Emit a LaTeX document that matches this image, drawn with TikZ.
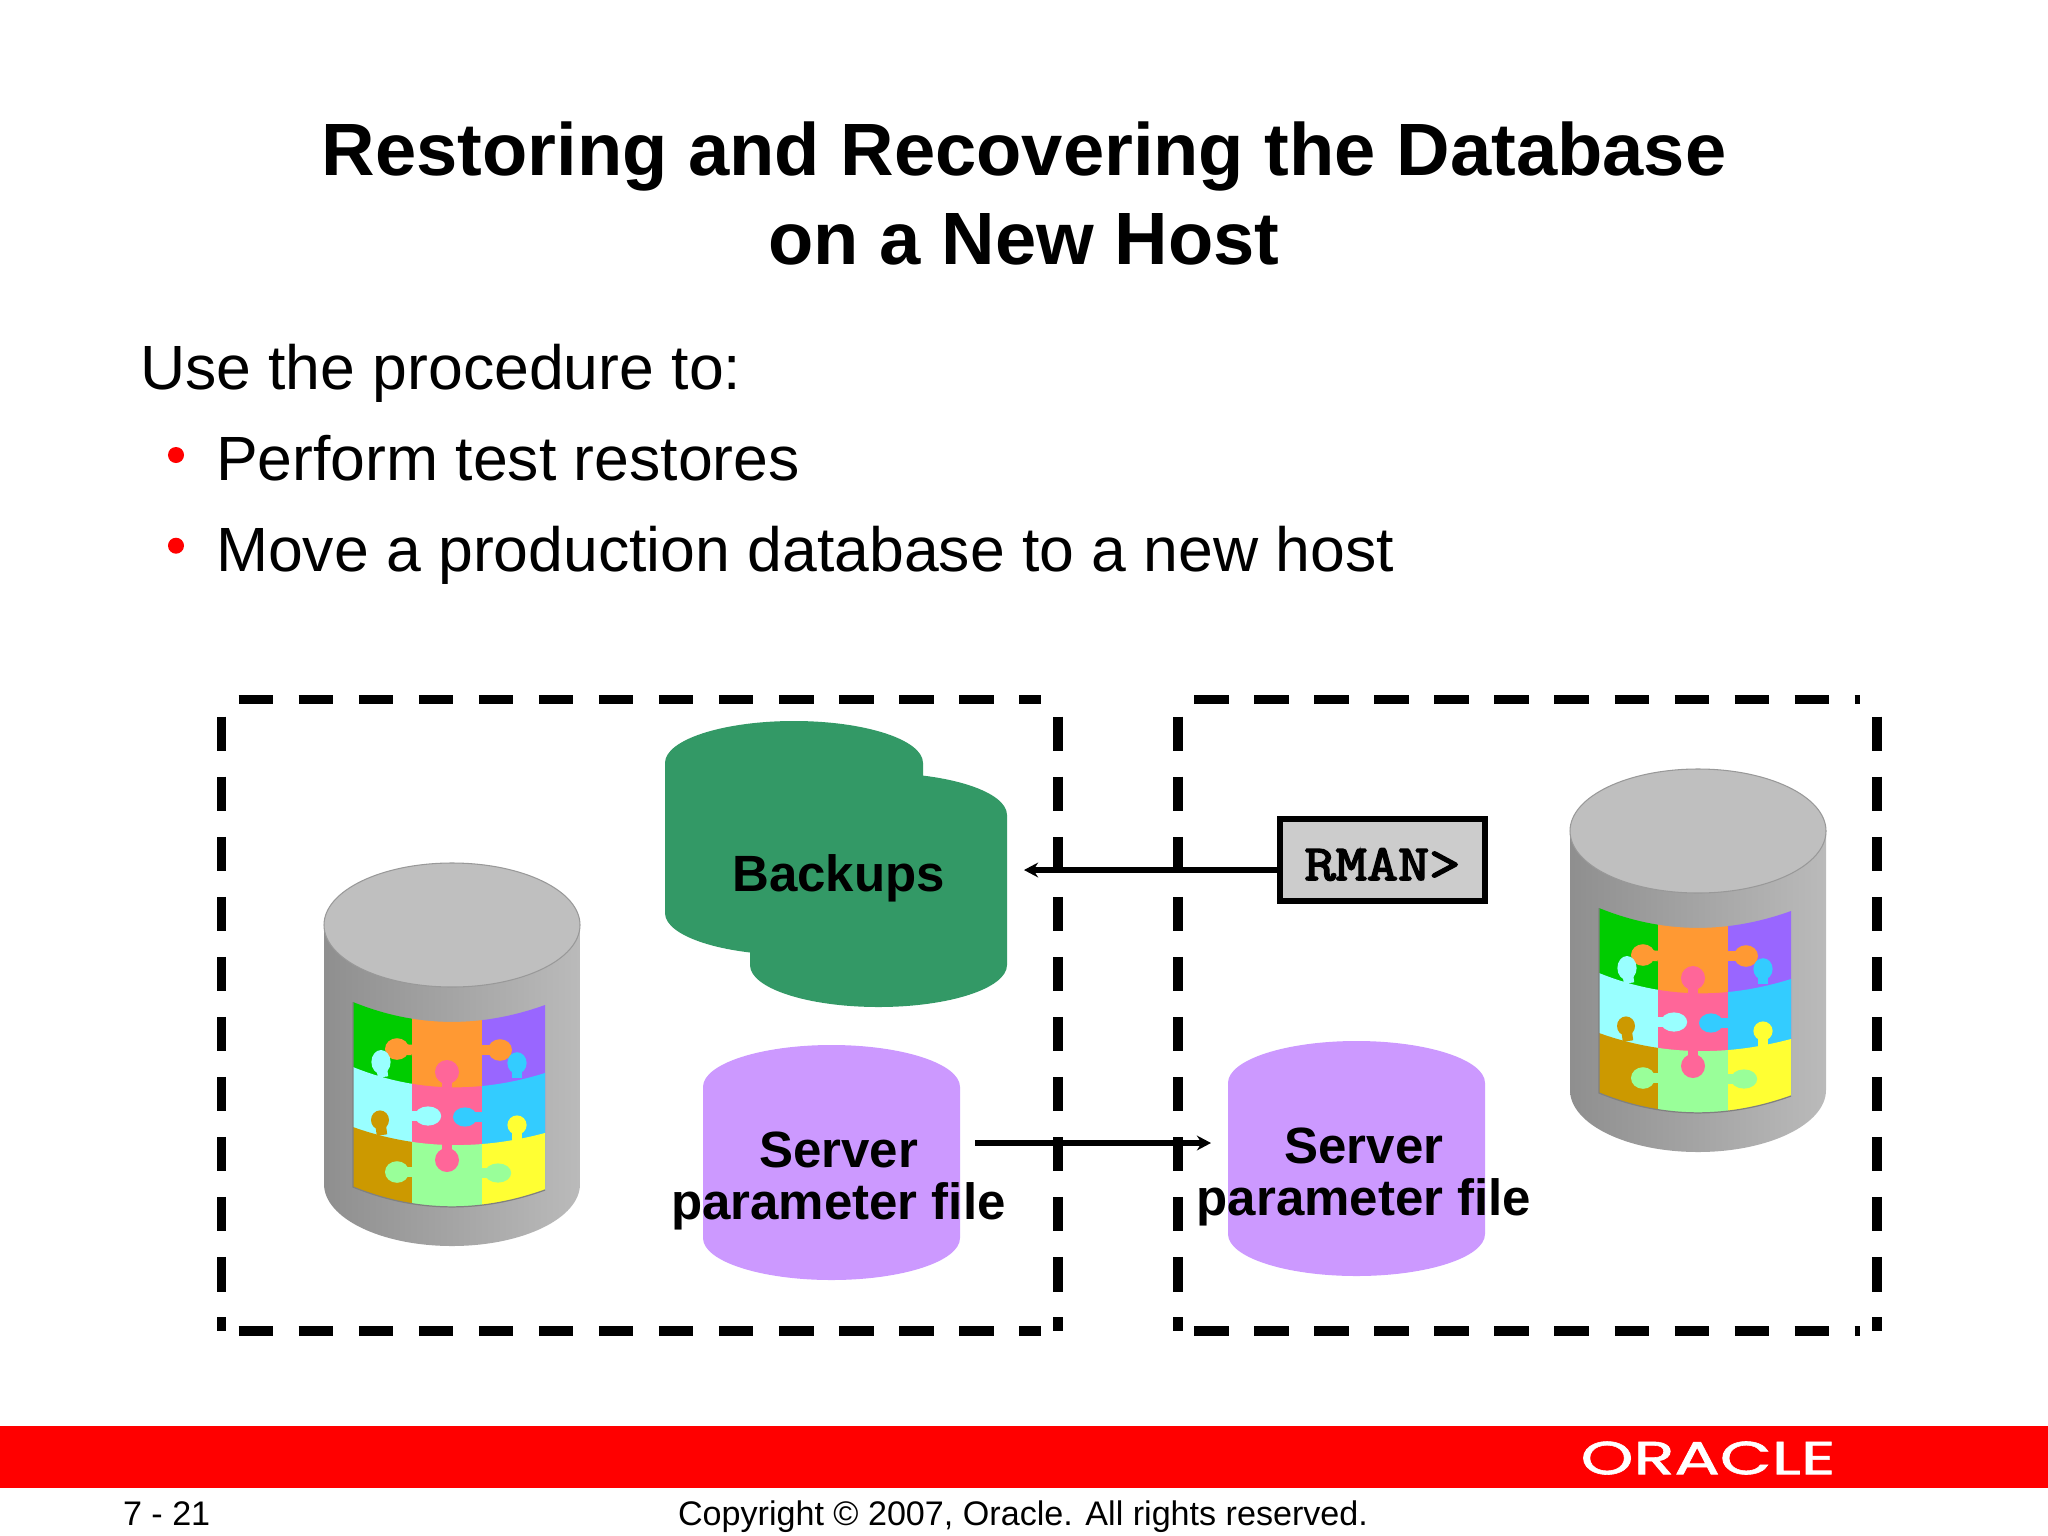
\documentclass[tikz,border=0pt]{standalone}
\usepackage{fontspec}
\setmainfont{Liberation Sans}
\newfontfamily\logofont[FakeBold=1.2]{Poppins}
\newfontfamily\rmanfont[FakeBold=3]{Latin Modern Mono}
\usetikzlibrary{arrows.meta}
\definecolor{bkgreen}{HTML}{339966}
\definecolor{spfill}{HTML}{CC99FF}
\definecolor{pzgreen}{HTML}{00CC00}
\definecolor{pzorange}{HTML}{FF9933}
\definecolor{pzpurple}{HTML}{9966FF}
\definecolor{pzcyan}{HTML}{99FFFF}
\definecolor{pzpink}{HTML}{FF6699}
\definecolor{pzsky}{HTML}{33CCFF}
\definecolor{pzbrown}{HTML}{CC9900}
\definecolor{pzlime}{HTML}{99FF99}
\definecolor{pzyellow}{HTML}{FFFF33}
\tikzset{
  txt/.style={inner sep=0pt,outer sep=0pt,text=black},
  titletxt/.style={txt,anchor=base,font=\bfseries\fontsize{21.08}{25}\selectfont},
  bodytxt/.style={txt,anchor=base west,font=\fontsize{17.78}{20}\selectfont},
  bullet/.style={circle,fill=red,inner sep=0pt,minimum size=1.6mm},
  lbl/.style={txt,anchor=base,font=\bfseries\fontsize{14.5}{17}\selectfont},
  foot/.style={txt,font=\fontsize{9.7}{12}\selectfont},
  hostbox/.style={line width=2.6pt,dash pattern=on 9.82pt off 7.25pt},
  conn/.style={line width=1.7pt,-{Stealth[length=4pt,width=4.2pt]}},
  rmanbox/.style={draw=black,fill=black!20,line width=1.75pt,inner sep=0pt,minimum width=205*0.1mm,minimum height=82*0.1mm,
     font=\rmanfont\fontsize{17.2}{19}\selectfont},
}
\newcommand{\cylshape}[5]{% colour, cx, top, rx, bottom; ry=42
  \fill[#1] ({#2-#4},{#3+42}) arc[start angle=180,end angle=360,x radius=#4,y radius=42]
     -- ({#2+#4},{#5-42}) arc[start angle=0,end angle=180,x radius=#4,y radius=42] -- cycle;}
\newcommand{\rowfill}[3]{%
  \fill[#1] (340,980) rectangle (412,1230);
  \fill[#2] (412,980) rectangle (482,1230);
  \fill[#3] (482,980) rectangle (560,1230);}
\newcommand{\knob}[7]{%
  \fill[#1] (#2,#3) ellipse[x radius=#4*1.2,y radius=#5*1.2];
  \draw[#1,line width=3pt] (#2,#3) -- (#6,#7);}
\newcommand{\dbcyl}[2]{%
\begin{scope}[shift={(#1,#2)}]
  \shade[left color=black!44,middle color=black!33,right color=black!27]
    (324,925) -- (580,925) -- (580,1184) arc[start angle=0,end angle=180,x radius=128,y radius=62] -- cycle;
  \fill[black!25,draw=black!40,line width=0.3pt] (452,925) ellipse[x radius=128,y radius=62];
  \begin{scope}
    \clip (353,1002) .. controls (417,1028) and (481,1028) .. (545,1005) -- (545,1190)
       .. controls (481,1213) and (417,1213) .. (353,1187) -- cycle;
    \rowfill{pzgreen}{pzorange}{pzpurple}
    \begin{scope}
      \clip (353,1067) .. controls (417,1093) and (481,1093) .. (545,1073) -- (560,1230) -- (340,1230) -- cycle;
      \rowfill{pzcyan}{pzpink}{pzsky}
      \begin{scope}
        \clip (353,1127) .. controls (417,1150) and (481,1150) .. (545,1133) -- (560,1230) -- (340,1230) -- cycle;
        \rowfill{pzbrown}{pzlime}{pzyellow}
      \end{scope}
    \end{scope}
    \knob{pzorange}{397}{1049}{10}{9}{412}{1050}
    \knob{pzorange}{500}{1050}{10}{9}{482}{1050}
    \knob{pzcyan}{381}{1062}{8}{10}{383}{1077}
    \knob{pzsky}{517}{1063}{8}{9}{517}{1078}
    \knob{pzpink}{447}{1072}{10}{10}{447}{1092}
    \knob{pzcyan}{428}{1116}{11}{8}{412}{1116}
    \knob{pzsky}{465}{1117}{10}{8}{482}{1117}
    \knob{pzbrown}{380}{1120}{7.5}{8}{382}{1135}
    \knob{pzyellow}{517}{1125}{8}{8}{517}{1140}
    \knob{pzpink}{447}{1160}{10}{10}{447}{1142}
    \knob{pzlime}{397}{1172}{10}{9}{412}{1172}
    \knob{pzlime}{498}{1173}{11}{8}{482}{1173}
  \end{scope}
  \draw[black!50,line width=0.35pt] (353,1002) -- (353,1187)
       .. controls (417,1213) and (481,1213) .. (545,1190);
\end{scope}}
\begin{document}
\begin{tikzpicture}[x=0.01cm,y=-0.01cm]
\useasboundingbox (0,0) rectangle (2048,1536);
\fill[white] (0,0) rectangle (2048,1536);

% title and text
\node[titletxt] (t1) at (1024,175) {Restoring and Recovering the Database};
\node[titletxt] (t2) at (1024,264) {on a New Host};
\node[bodytxt] (b0) at (140,389.5) {Use the procedure to:};
\node[bullet] (d1) at (176,455) {};
\node[bodytxt] (b1) at (216,480.5) {Perform test restores};
\node[bullet] (d2) at (176,545.7) {};
\node[bodytxt] (b2) at (216,571.5) {Move a production database to a new host};

% host boxes
\draw[hostbox] (238.7,699.7) -- (1040.7,699.7);
\draw[hostbox] (238.7,1331) -- (1040.7,1331);
\draw[hostbox] (221.8,716.7) -- (221.8,1331);
\draw[hostbox] (1058,716.7) -- (1058,1331);
\draw[hostbox] (1194.3,699.7) -- (1860,699.7);
\draw[hostbox] (1194.3,1331) -- (1860,1331);
\draw[hostbox] (1178,716.7) -- (1178,1331);
\draw[hostbox] (1877,716.7) -- (1877,1331);

% databases
\dbcyl{0}{0}
\dbcyl{1246}{-94}

% backups
\cylshape{bkgreen}{794}{721}{129}{955}
\cylshape{bkgreen}{878.5}{773}{128.5}{1007}
\node[lbl] (bk) at (838.5,891) {Backups};

% server parameter files
\cylshape{spfill}{831.5}{1045}{128.5}{1280}
\node[lbl] (sp1a) at (838.5,1167.5) {Server};
\node[lbl] (sp1b) at (838.5,1219.5) {parameter file};
\cylshape{spfill}{1356.5}{1041}{128.5}{1276}
\node[lbl] (sp2a) at (1364,1163.5) {Server};
\node[lbl] (sp2b) at (1364,1215.5) {parameter file};

% rman
\node[rmanbox] (rman) at (1382.5,860) {\raisebox{-5.7pt}[0pt][0pt]{\scalebox{1}[0.84]{RMAN>}}\hspace{7.3pt}};
\coordinate (bktip) at (1024,870);
\coordinate (spfrom) at (975,1143);
\coordinate (sptip) at (1211,1143);
\draw[conn] (rman.west |- bktip) -- (bktip);
\draw[conn] (spfrom) -- (sptip);

% footer
\fill[red] (0,1426) rectangle (2048,1488);
\node[txt,text=white,anchor=center,font=\logofont\fontsize{13.2}{16}\selectfont] (logo) at (1708,1458) {\scalebox{1.45}[1]{ORACLE}};
\node[foot,anchor=base west] (pg) at (123,1525) {7 - 21};
\node[foot,anchor=base] (cr) at (1023,1525) {Copyright © 2007, Oracle. All rights reserved.};
\end{tikzpicture}
\end{document}
